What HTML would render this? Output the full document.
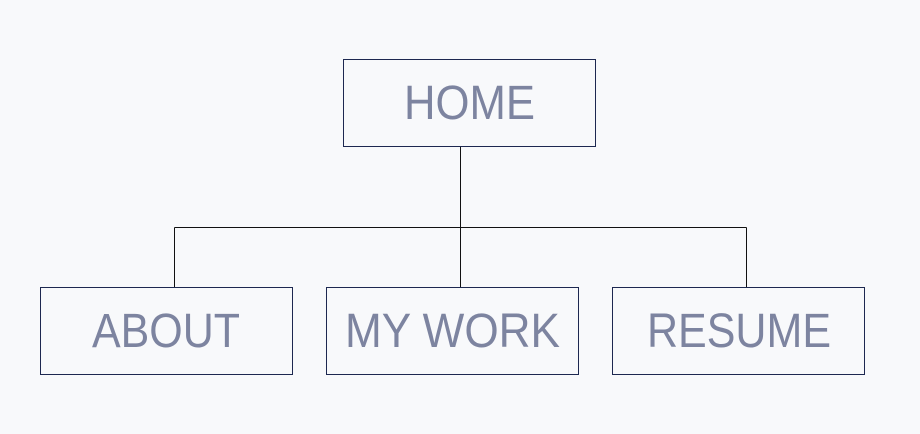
<!DOCTYPE html>
<html><head><meta charset="utf-8"><style>
html,body{margin:0;padding:0;background:#f8f9fb;}
svg{display:block}
</style></head><body>
<svg width="920" height="434" viewBox="0 0 920 434" xmlns="http://www.w3.org/2000/svg">
<rect width="920" height="434" fill="#f8f9fb"/>
<g fill="none" stroke="#1d2850" stroke-width="1">
<rect x="343.5" y="59.5" width="252" height="87"/>
<rect x="40.5" y="287.5" width="252" height="87"/>
<rect x="326.5" y="287.5" width="252" height="87"/>
<rect x="612.5" y="287.5" width="252" height="87"/>
</g>
<g fill="none" stroke="#111" stroke-width="1">
<line x1="460.5" y1="147" x2="460.5" y2="287"/>
<line x1="174.5" y1="227.5" x2="746.5" y2="227.5"/>
<line x1="174.5" y1="227.5" x2="174.5" y2="287"/>
<line x1="746.5" y1="227.5" x2="746.5" y2="287"/>
</g>
<g font-family="Liberation Sans, sans-serif" font-size="48" fill="#7d84a0" font-weight="normal">
<text x="404" y="119" textLength="131" lengthAdjust="spacingAndGlyphs">HOME</text>
<text x="92" y="347" textLength="148" lengthAdjust="spacingAndGlyphs">ABOUT</text>
<text x="345" y="347" textLength="215" lengthAdjust="spacingAndGlyphs">MY WORK</text>
<text x="647" y="347" textLength="184" lengthAdjust="spacingAndGlyphs">RESUME</text>
</g>
</svg>
</body></html>
